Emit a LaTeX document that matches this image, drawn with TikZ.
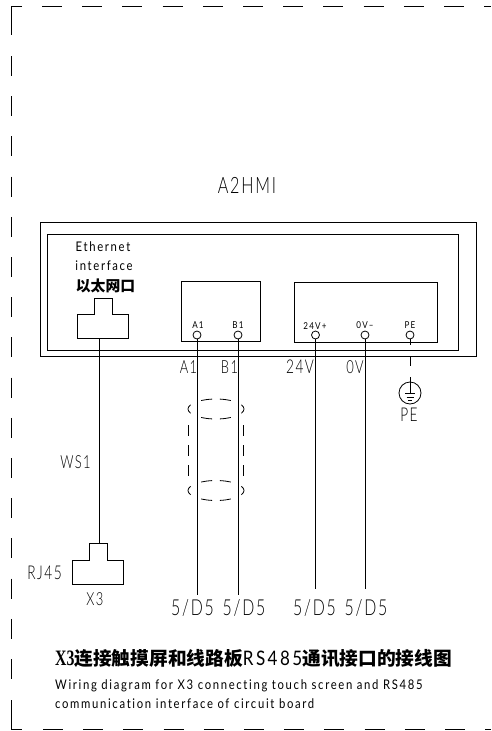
\documentclass[tikz,border=0pt]{standalone}
\usepackage{fontspec}
\usetikzlibrary{positioning}
\newfontfamily\cadfont[FakeStretch=0.72,LetterSpace=8,Ligatures=NoCommon]{Lato Light}
\newfontfamily\cadwide[FakeStretch=0.85,LetterSpace=12.5,Ligatures=NoCommon]{Lato}
\newfontfamily\cjkfont{Noto Sans CJK SC Black}
\newfontfamily\boldserif[FakeStretch=0.72]{Liberation Serif Bold}
\newcommand{\cad}[1]{\cadfont\fontsize{#1}{#1}\selectfont}
\newcommand{\cadw}[1]{\cadwide\fontsize{#1}{#1}\selectfont}
\newcommand{\cjk}[1]{\cjkfont\fontsize{#1}{#1}\selectfont}
\tikzset{line/.style = {draw, line width = 0.8pt}}
\tikzset{term/.style = {draw, circle, inner sep = 0, minimum size = 8pt, line width = 0.8pt}}
\tikzset{txt/.style = {inner sep = 0, text = black}}
\tikzset{border/.style = {line width = 0.8pt, dash pattern = on 20pt off 20.2pt}}
\begin{document}
\begin{tikzpicture}[x=1pt,y=-1pt]
    \useasboundingbox (0,0) rectangle (491,731);
    \draw [line width=0.8pt] (22,6)--(11,6)--(11,35);
    \draw [line width=0.8pt] (11,700)--(11,729)--(22,729);
    \draw [border] (42,6)--(491,6);
    \draw [border] (43,729)--(491,729);
    \draw [border] (11,56)--(11,680);
    \node [txt,font=\cad{22.5}] (title) at (247,185) {A2HMI};
    \draw [line] (40,222) rectangle (476,356);
    \draw [line] (47,234) rectangle (458,350);
    \draw [line] (181,281) rectangle (260,341);
    \draw [line] (294,282) rectangle (437,342);
    \node [txt,font=\cadw{13.3}] (eth) at (103,247) {Ethernet};
    \node [txt,font=\cadw{13.3}] (iface) at (104,266) {interface};
    \node [txt,font=\cjk{14.8}] (cn) at (105.5,286) {以太网口};
    \draw [line] (77.5,338)--(77.5,314)--(94,314)--(94,298)--(112,298)--(112,314)--(128,314)--(128,338)--cycle;
    \draw [line] (72.5,584)--(72.5,560)--(89,560)--(89,543.5)--(107,543.5)--(107,560)--(123,560)--(123,584)--cycle;
    \coordinate (ethport) at (99.5,338);
    \coordinate (xport) at (99.5,543.5);
    \draw [line] (ethport)--(xport);
    \node [txt,font=\cad{18}] (ws) at (75.5,462) {WS1};
    \node [txt,font=\cad{19}] (rj) at (44.5,573) {RJ45};
    \node [txt,font=\cad{18}] (xthree) at (95,599) {X3};
    \node [term] (a) at (197,335) {};
    \node [term] (b) at (238,335) {};
    \node [term] (v) at (315.5,335) {};
    \node [term] (z) at (365,335) {};
    \node [term] (pe) at (410,335) {};
    \node [txt,font=\cadw{9.5}] (al) at (198,325.5) {A1};
    \node [txt,font=\cadw{9.5}] (bl) at (238,325.5) {B1};
    \node [txt,font=\cadw{9.5}] (vl) at (315,326.5) {24V+};
    \node [txt,font=\cadw{9.5}] (zl) at (365,325) {0V–};
    \node [txt,font=\cadw{9.5}] (pl) at (410,325.5) {PE};
    \node [txt,font=\cad{18}] (at) at (188.5,367) {A1};
    \node [txt,font=\cad{18}] (bt) at (229.5,367) {B1};
    \node [txt,font=\cad{19}] (vt) at (300,367) {24V};
    \node [txt,font=\cad{18}] (zt) at (355,367) {0V};
    \coordinate (aend) at (197,595);
    \coordinate (bend) at (238,595);
    \coordinate (vend) at (315.5,589);
    \coordinate (zend) at (365,589);
    \draw [line] (a)--(aend);
    \draw [line] (b)--(bend);
    \draw [line] (v)--(vend);
    \draw [line] (z)--(zend);
    \node [draw,circle,inner sep=0,minimum size=22pt,line width=0.8pt] (earth) at (410,393) {};
    \draw [line width=0.8pt,dash pattern=on 6pt off 12pt on 9pt off 11pt] (pe)--(earth);
    \draw [line] (earth.north)--(earth.center);
    \draw [line] (405,393)--(415,393);
    \draw [line] (406.5,397)--(413.5,397);
    \draw [line] (408,400.5)--(412,400.5);
    \node [txt,font=\cad{19}] (pel) at (409,415) {PE};
    \foreach \y in {409,490.5} {
        \foreach \s/\e in {98/122,58/82,-98/-122,-58/-82,155/205,-25/25} {
            \draw [line width=0.8pt] (216,\y) ++(\s:28 and 10) arc [start angle=\s,end angle=\e,x radius=28,y radius=10];
        }
    }
    \draw [line width=0.8pt,dash pattern=on 10.5pt off 9.5pt] (188,425)--(188,476);
    \draw [line width=0.8pt,dash pattern=on 10.5pt off 9.5pt] (243,425)--(243,476);
    \node [txt,font=\cad{22}] (da) at (192.5,608) {5/D5};
    \node [txt,font=\cad{22}] (db) at (244,608) {5/D5};
    \node [txt,font=\cad{22}] (dv) at (314.5,608) {5/D5};
    \node [txt,font=\cad{22}] (dz) at (366,608) {5/D5};
    \node [txt,anchor=west,font=\cjk{18.7}] (head) at (55,659) {{\boldserif\fontsize{22}{22}\selectfont X3}连接触摸屏和线路板{\cadw{20}RS485}通讯接口的接线图};
    \node [txt,anchor=west,font=\cadw{13.3}] (suba) at (55,686) {Wiring diagram for X3 connecting touch screen and RS485};
    \node [txt,anchor=west,font=\cadw{13.3}] (subb) at (55,704) {communication interface of circuit board};
\end{tikzpicture}
\end{document}
